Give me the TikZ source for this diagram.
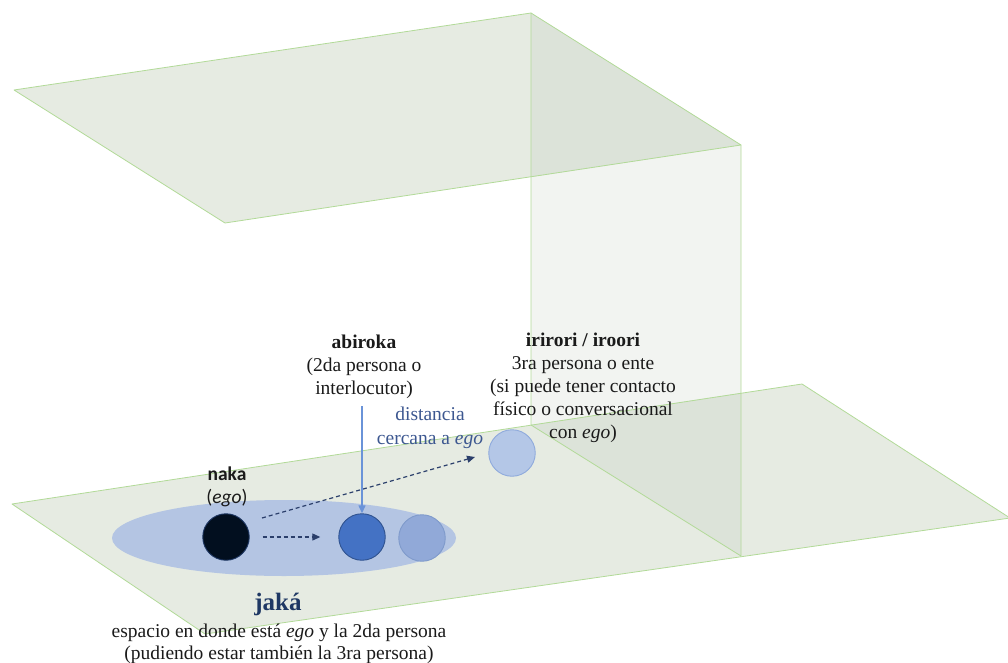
\documentclass[tikz,border=0pt]{standalone}
\usepackage{fontspec}
\setmainfont{Liberation Serif}
\newfontfamily\timesfont{Liberation Serif}
\newfontfamily\calibri{Carlito}
\usetikzlibrary{arrows.meta}
\definecolor{planefill}{HTML}{E6EBE2}
\definecolor{planedark}{HTML}{DCE3D9}
\definecolor{wallfill}{HTML}{F2F4F1}
\definecolor{planeedge}{HTML}{B2DA98}
\definecolor{zone}{HTML}{B4C5E3}
\definecolor{navy}{HTML}{1F3864}
\definecolor{dashnavy}{HTML}{2B3F6B}
\definecolor{pointer}{HTML}{6A93D8}
\definecolor{nearcol}{HTML}{3C5790}
\definecolor{txt}{HTML}{1A1A1A}
\definecolor{egofill}{HTML}{020F1F}
\definecolor{youfill}{HTML}{4472C4}
\definecolor{youedge}{HTML}{2F528F}
\definecolor{thirdfill}{HTML}{91A9D8}
\definecolor{thirdedge}{HTML}{7F9ACB}
\definecolor{farfill}{HTML}{B4C7E7}
\definecolor{faredge}{HTML}{8FAADC}
\begin{document}
\begin{tikzpicture}[x=1pt,y=-1pt,
  edge/.style={draw=planeedge, line width=0.8pt, line join=round},
  body/.style={text=txt, align=center, inner sep=0pt, font=\timesfont\fontsize{19.5}{23}\selectfont},
  person/.style={circle, minimum size=46.5pt, inner sep=0pt, line width=0.9pt},
  dasharrow/.style={draw=dashnavy, line width=1.2pt, dash pattern=on 4pt off 3pt,
    -{Triangle[length=8pt,width=7pt]}},
  solidarrow/.style={draw=pointer, line width=1.3pt, -{Triangle[length=8pt,width=7pt]}}]
\useasboundingbox (0,0) rectangle (1008,663);

% wall and the two planes
\fill[wallfill] (531,13) -- (741,145) -- (741,556) -- (531,425) -- cycle;
\fill[planefill] (12,504) -- (802,384) -- (1010,518) -- (205,634) -- cycle;
\fill[planefill] (14,90) -- (531,13) -- (741,145) -- (225,223) -- cycle;
% where the wall and the planes overlap
\fill[planedark] (531,13) -- (741,145) -- (531,177) -- cycle;
\fill[planedark] (531,425) -- (741,393) -- (741,556) -- cycle;
% outlines
\draw[edge] (12,504) -- (802,384) -- (1010,518) -- (205,634) -- cycle;
\draw[edge] (14,90) -- (531,13) -- (741,145) -- (225,223) -- cycle;
\draw[edge] (531,13) -- (531,425) -- (741,556) -- (741,145);

% jaka zone
\fill[zone] (284,538) ellipse [x radius=172, y radius=38];

% persons
\node[person, fill=egofill, draw=navy] (ego) at (226,537) {};
\node[person, fill=youfill, draw=youedge] (you) at (362,537) {};
\node[person, fill=thirdfill, draw=thirdedge] (third) at (422,538) {};
\node[person, fill=farfill, draw=faredge] (far) at (512,453) {};

% labels
\node[body] (abiroka) at (364,367) {\textbf{abiroka}\\(2da persona o\\interlocutor)};
\node[body] (irirori) at (583,388) {\textbf{irirori / iroori}\\3ra persona o ente\\(si puede tener contacto\\físico o conversacional\\con \textit{ego})};
\node[body, text=nearcol, font=\timesfont\fontsize{19.5}{23.5}\selectfont] (near) at (430,428) {distancia\\cercana a \textit{ego}};
\node[body, font=\calibri\fontsize{19.5}{23}\selectfont] (naka) at (227,487) {\textbf{naka}\\(\textit{ego})};
\node[body, text=navy, font=\timesfont\fontsize{25}{28}\selectfont\bfseries] (jaka) at (278,604) {jaká};
\node[body, font=\timesfont\fontsize{19.5}{22}\selectfont] (espacio) at (279,643.5) {espacio en donde está \textit{ego} y la 2da persona\\(pudiendo estar también la 3ra persona)};

% connectors
\coordinate (farstart) at (262,518);
\coordinate (farend) at (475,457);
\coordinate (pointerstart) at (362,406);
\draw[dasharrow] (farstart) -- (farend);
\draw[dasharrow] ([xshift=13pt]ego.east) -- ([xshift=-18pt]you.west);
\draw[solidarrow] (pointerstart) -- (you.north);
\end{tikzpicture}
\end{document}
